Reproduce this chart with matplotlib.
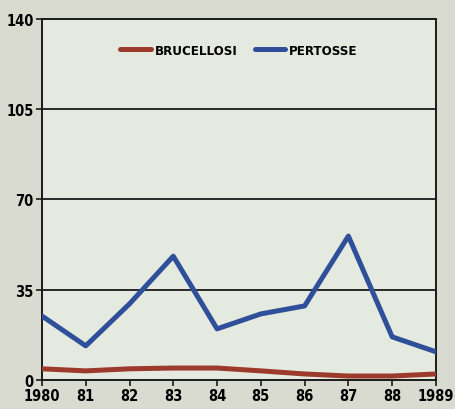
import numpy as np
import matplotlib.pyplot as plt

years = [1980, 1981, 1982, 1983, 1984, 1985, 1986, 1987, 1988, 1989]
xlabels = ['1980', '81', '82', '83', '84', '85', '86', '87', '88', '1989']
brucellosi = [4.3, 3.5, 4.3, 4.6, 4.6, 3.5, 2.3, 1.5, 1.5, 2.3]
pertosse = [24.8, 13.2, 29.5, 48.0, 19.8, 25.6, 28.7, 55.8, 16.7, 10.9]
yticks = [0, 35, 70, 105, 140]

fig = plt.figure(figsize=(4.56, 4.10), dpi=100, facecolor='#d9dbd0')
ax = fig.add_axes([0.092, 0.071, 0.864, 0.88])
ax.set_facecolor('#e4eadf')

font = dict(family='DejaVu Sans', stretch='condensed', weight='bold', size=10.5)

for y in yticks[1:-1]:
    ax.axhline(y, color='#1a1a1a', lw=1.3, zorder=1)

ax.plot(years, brucellosi, color='#9c3a2c', lw=3.6, solid_capstyle='round', label='BRUCELLOSI', zorder=3)
ax.plot(years, pertosse, color='#2f4f9a', lw=3.6, solid_capstyle='round', label='PERTOSSE', zorder=3)

ax.set_xlim(1980, 1989)
ax.set_ylim(0, 140)
ax.set_xticks(years)
ax.set_xticklabels(xlabels, fontdict=font)
ax.set_yticks(yticks)
ax.set_yticklabels([str(v) for v in yticks], fontdict=font)
ax.tick_params(direction='out', length=4, width=1.2, color='#1a1a1a', pad=2)
for s in ax.spines.values():
    s.set_linewidth(1.4)
    s.set_color('#1a1a1a')

leg = ax.legend(loc='upper center', bbox_to_anchor=(0.5, 0.965), ncol=2, frameon=False,
                handlelength=2.3, columnspacing=1.3, handletextpad=0.3,
                prop=dict(family='DejaVu Sans', stretch='condensed', weight='bold', size=9.5))

fig.savefig('out.png', dpi=100, facecolor=fig.get_facecolor())
